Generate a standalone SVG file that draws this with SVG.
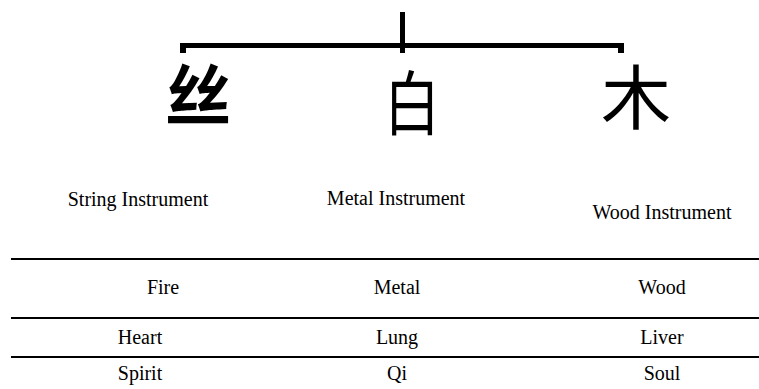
<svg xmlns="http://www.w3.org/2000/svg" width="759" height="389" viewBox="0 0 759 389">
<style>
.cjk{font-family:"Noto Sans CJK SC","Noto Sans CJK JP",sans-serif;font-size:70px;fill:#000;text-anchor:middle}
.lbl{font-family:"Liberation Serif","Times New Roman",serif;font-size:20px;fill:#000;text-anchor:middle}
.br{fill:#000}
.rule{stroke:#000;stroke-width:2;fill:none}
</style>
<rect width="759" height="389" fill="#fff"/>
<g id="connectors">
<rect class="br" x="180" y="43" width="444" height="5"/>
<rect class="br" x="180" y="43" width="6" height="10"/>
<rect class="br" x="618" y="43" width="6" height="10"/>
<rect class="br" x="400" y="12" width="5" height="41"/>
</g>
<g id="node-si"><text class="cjk" x="198" y="120" style="font-weight:700;font-size:66px">丝</text></g>
<g id="node-bai" transform="translate(412,0) scale(0.8,1)"><text class="cjk" x="0" y="130" style="font-weight:400">白</text></g>
<g id="node-mu"><text class="cjk" x="636" y="124" style="font-weight:400">木</text></g>
<g id="labels">
<text class="lbl" x="138" y="206">String Instrument</text>
<text class="lbl" x="396" y="205">Metal Instrument</text>
<text class="lbl" x="662" y="219">Wood Instrument</text>
</g>
<g id="table">
<line class="rule" x1="11" y1="259" x2="759" y2="259"/>
<line class="rule" x1="11" y1="318" x2="759" y2="318"/>
<line class="rule" x1="11" y1="357" x2="759" y2="357"/>
<text class="lbl" x="163" y="294">Fire</text>
<text class="lbl" x="397" y="294">Metal</text>
<text class="lbl" x="662" y="294">Wood</text>
<text class="lbl" x="140" y="344">Heart</text>
<text class="lbl" x="397" y="344">Lung</text>
<text class="lbl" x="662" y="344">Liver</text>
<text class="lbl" x="140" y="380">Spirit</text>
<text class="lbl" x="397" y="380">Qi</text>
<text class="lbl" x="662" y="380">Soul</text>
</g>
</svg>
